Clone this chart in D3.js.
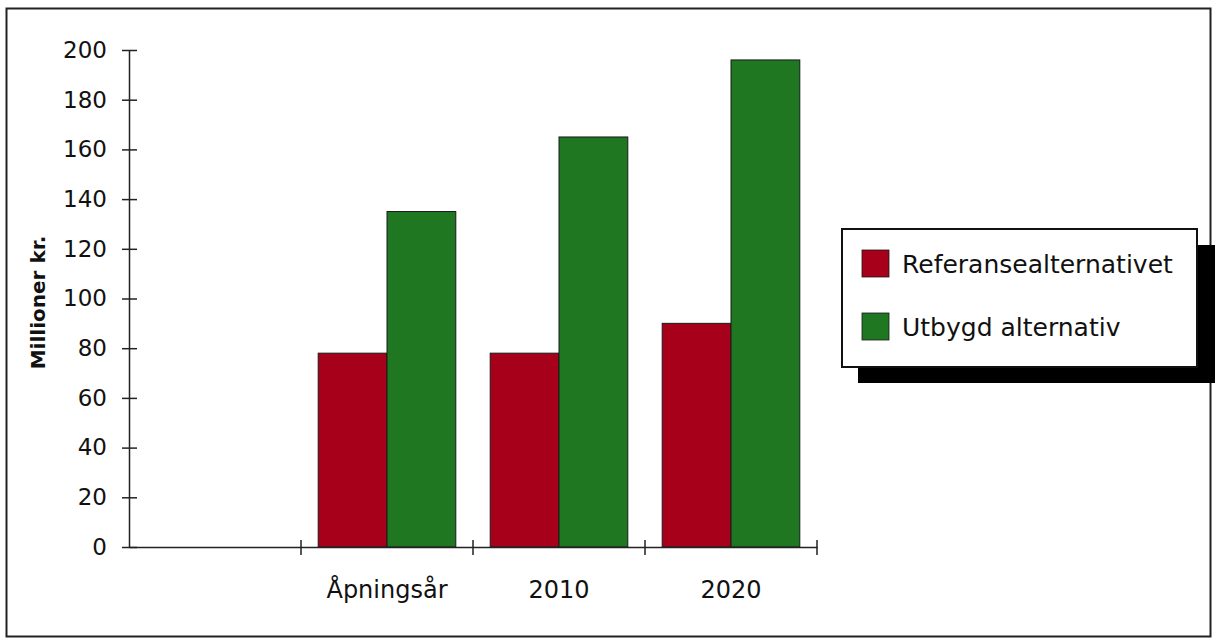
<!DOCTYPE html>
<html>
<head>
<meta charset="utf-8">
<script src="https://cdn.jsdelivr.net/npm/d3@7"></script>
<style>
  body { margin: 0; background: #fff; }
  svg { display: block; font-family: "DejaVu Sans", sans-serif; }
</style>
</head>
<body>
<div id="wrapper"></div>
<script>
// Data
const categories = ["", "Åpningsår", "2010", "2020"]
const seriesNames = ["Referansealternativet", "Utbygd alternativ"]
const referanse = [null, 78, 78, 90]
const utbygd = [null, 135, 165, 196]
const yTicks = [0, 20, 40, 60, 80, 100, 120, 140, 160, 180, 200]
const yTitle = "Millioner kr."
const colors = ["#a6001b", "#1f7721"]

function drawBars() {
  const dms = {
    width: 1218,
    height: 642,
    margin: { top: 50, right: 401, bottom: 95, left: 129 },
  }
  dms.boundedWidth = dms.width - dms.margin.left - dms.margin.right
  dms.boundedHeight = dms.height - dms.margin.top - dms.margin.bottom

  const wrapper = d3.select("#wrapper")
    .append("svg")
    .attr("width", dms.width)
    .attr("height", dms.height)

  // outer frame
  wrapper.append("rect")
    .attr("x", 6.5).attr("y", 8.5)
    .attr("width", 1204).attr("height", 628)
    .attr("fill", "none")
    .attr("stroke", "#222")
    .attr("stroke-width", 2)

  const bounds = wrapper.append("g")
    .attr("transform", `translate(${dms.margin.left},${dms.margin.top})`)

  const dataset = categories.map((c, i) => ({
    category: c,
    values: [referanse[i], utbygd[i]],
  }))

  // Scales
  const xScale = d3.scaleBand()
    .domain(categories)
    .range([0, dms.boundedWidth])
    .padding(0)

  const xSub = d3.scaleBand()
    .domain(d3.range(seriesNames.length))
    .range([0, xScale.bandwidth()])
    .paddingInner(0)
    .paddingOuter(0.25)

  const yScale = d3.scaleLinear()
    .domain([0, 200])
    .range([dms.boundedHeight, 0])

  // Bars
  const groups = bounds.append("g")
    .selectAll("g")
    .data(dataset)
    .join("g")
    .attr("transform", d => `translate(${xScale(d.category)},0)`)

  groups.selectAll("rect")
    .data(d => d.values.map((v, i) => ({ v, i })).filter(e => e.v != null))
    .join("rect")
    .attr("x", d => xSub(d.i))
    .attr("y", d => yScale(d.v))
    .attr("width", xSub.bandwidth())
    .attr("height", d => dms.boundedHeight - yScale(d.v))
    .attr("fill", d => colors[d.i])
    .attr("stroke", "#1a1a1a")
    .attr("stroke-width", 1)

  // Y axis
  const yAxisGenerator = d3.axisLeft(yScale)
    .tickValues(yTicks)
    .tickSize(7)
    .tickSizeOuter(0)
    .tickPadding(15)

  const yAxis = bounds.append("g").call(yAxisGenerator)
  yAxis.select(".domain").attr("stroke", "#222").attr("stroke-width", 1.5)
  yAxis.selectAll(".tick line").attr("x2", 8).attr("x1", -7).attr("stroke", "#222").attr("stroke-width", 1.5)
  yAxis.selectAll(".tick text")
    .attr("font-size", 23)
    .attr("font-family", "DejaVu Sans, sans-serif")
    .attr("fill", "#111")

  // X axis (labels centered, ticks at band edges)
  const xAxisGenerator = d3.axisBottom(xScale)
    .tickSize(0)
    .tickSizeOuter(0)
    .tickPadding(34)

  const xAxis = bounds.append("g")
    .attr("transform", `translate(0,${dms.boundedHeight})`)
    .call(xAxisGenerator)
  xAxis.select(".domain").attr("stroke", "#222").attr("stroke-width", 1.5)
  xAxis.selectAll(".tick text")
    .attr("font-size", 24)
    .attr("font-family", "DejaVu Sans, sans-serif")
    .attr("fill", "#111")

  const edges = categories.slice(1).map(c => xScale(c)).concat([dms.boundedWidth])
  xAxis.selectAll(".edge")
    .data(edges)
    .join("line")
    .attr("class", "edge")
    .attr("x1", d => d).attr("x2", d => d)
    .attr("y1", -7).attr("y2", 8)
    .attr("stroke", "#222")
    .attr("stroke-width", 1.5)

  // Y title
  bounds.append("text")
    .attr("transform", `translate(${45 - dms.margin.left},${yScale(100) + 4}) rotate(-90)`)
    .attr("text-anchor", "middle")
    .attr("font-size", 20)
    .attr("font-weight", "bold")
    .attr("fill", "#111")
    .text(yTitle)

  // Legend
  const legend = wrapper.append("g").attr("transform", "translate(842,229)")
  const lw = 355, lh = 138

  legend.append("rect")
    .attr("x", 16).attr("y", 16)
    .attr("width", lw + 2).attr("height", lh)
    .attr("fill", "#000")

  legend.append("rect")
    .attr("width", lw).attr("height", lh)
    .attr("fill", "#fff")
    .attr("stroke", "#111")
    .attr("stroke-width", 2)

  const items = legend.selectAll(".item")
    .data(seriesNames)
    .join("g")
    .attr("class", "item")
    .attr("transform", (d, i) => `translate(20,${21 + i * 63})`)

  items.append("rect")
    .attr("width", 27).attr("height", 27)
    .attr("fill", (d, i) => colors[i])
    .attr("stroke", "#1a1a1a")
    .attr("stroke-width", 0.8)

  items.append("text")
    .attr("x", 40)
    .attr("y", 14)
    .attr("dy", "0.35em")
    .attr("font-size", 25)
    .attr("fill", "#111")
    .text(d => d)
}

drawBars()
</script>
</body>
</html>
